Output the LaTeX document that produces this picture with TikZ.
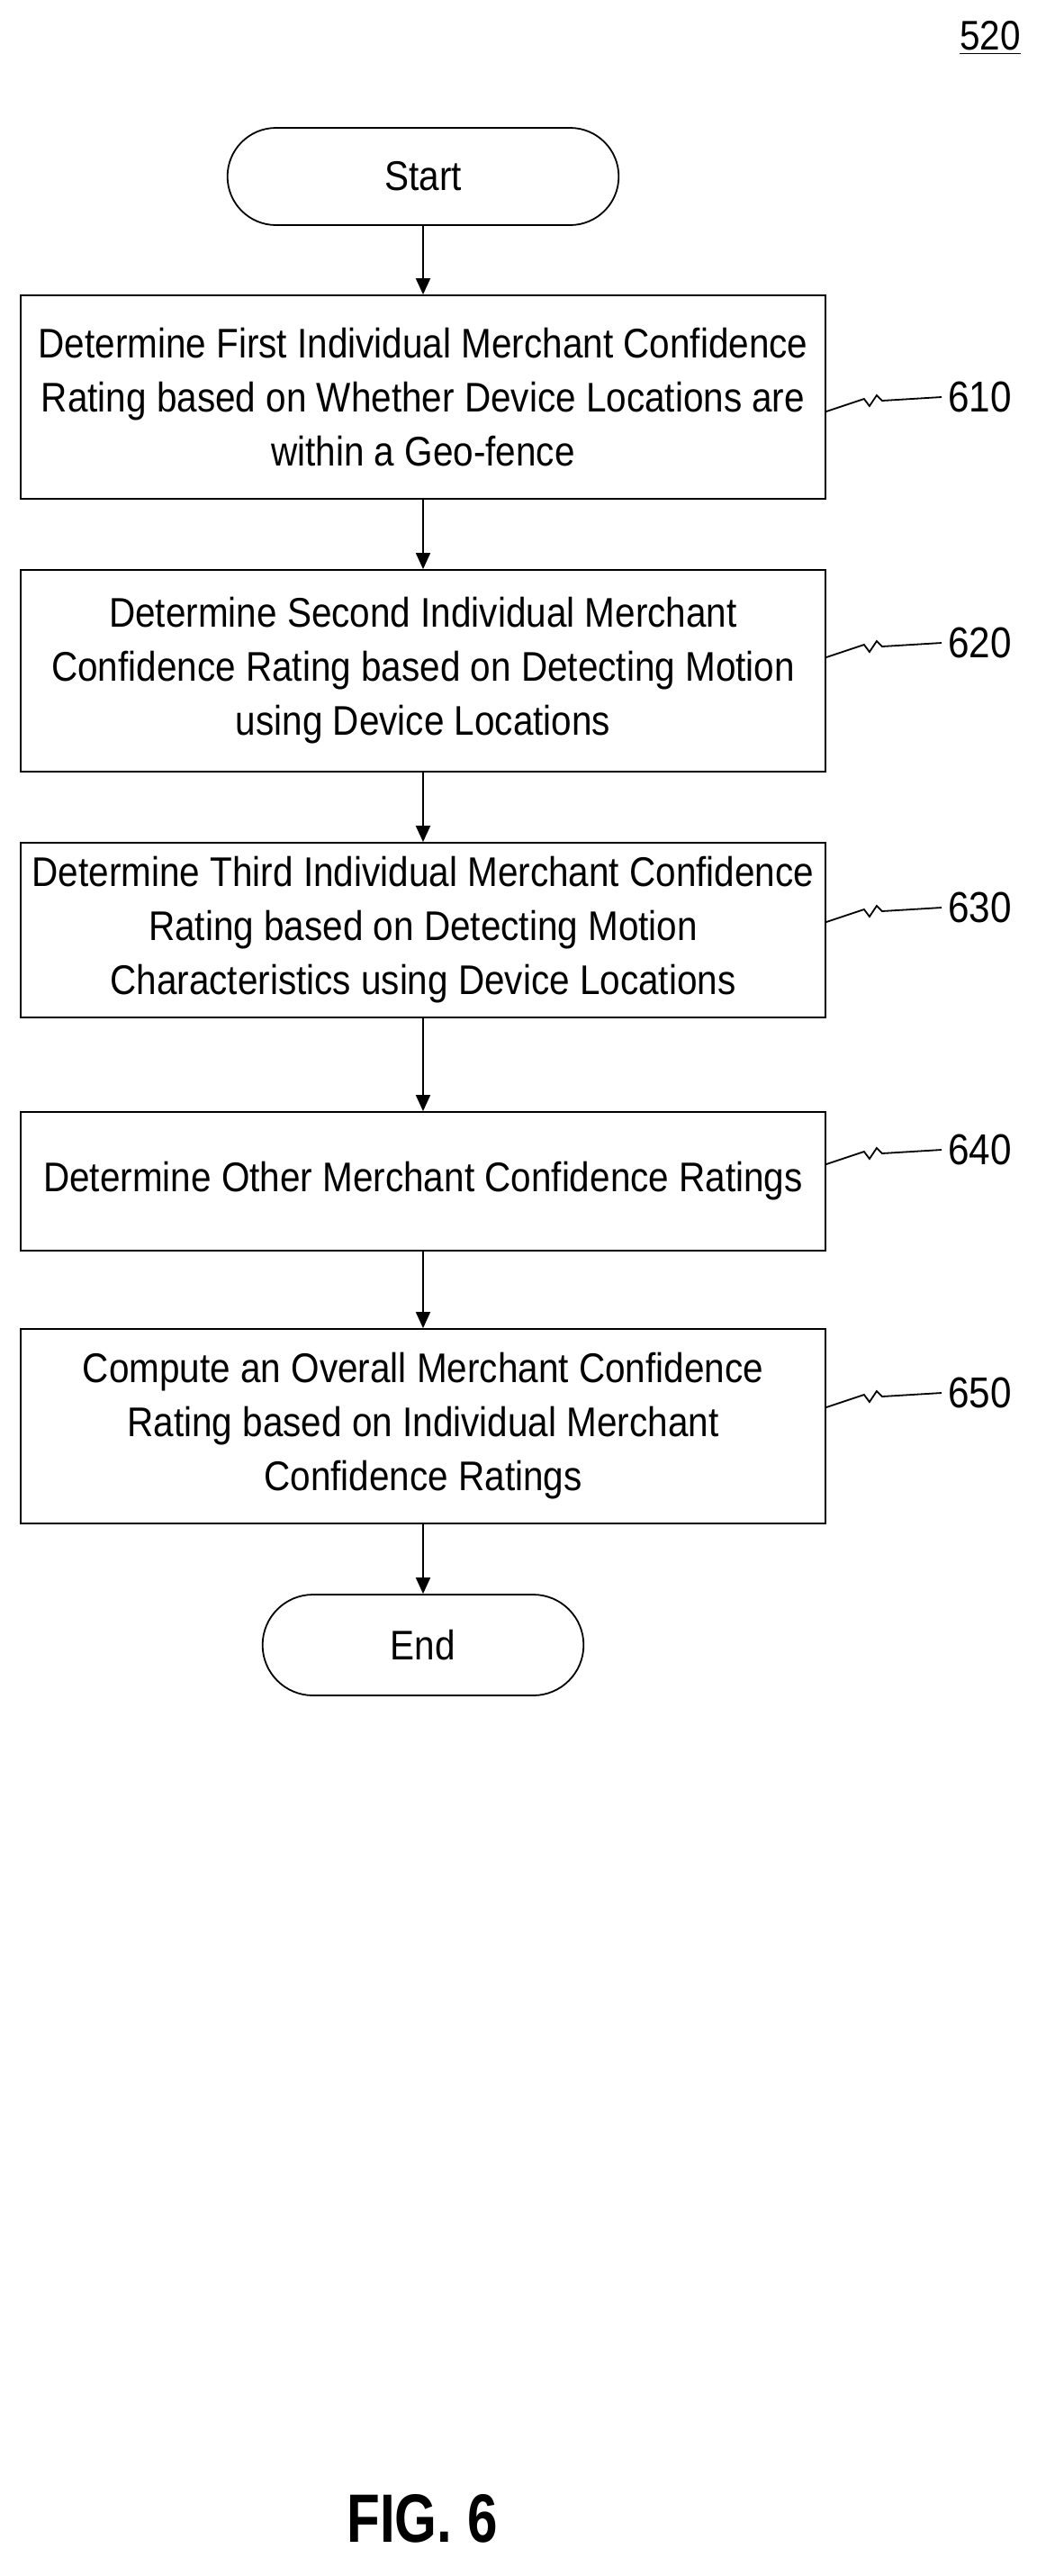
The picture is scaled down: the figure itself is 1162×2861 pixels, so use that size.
\documentclass[tikz,border=0pt]{standalone}
\usepackage{fontspec}
\setmainfont{Liberation Sans}[FakeStretch=0.88]
\usetikzlibrary{shapes.misc,arrows.meta}
\begin{document}
\begin{tikzpicture}[x=0.5pt,y=-0.5pt,
  box/.style={draw,line width=0.9pt,minimum width=447pt,align=center,font=\fontsize{23}{30}\selectfont},
  term/.style={draw,line width=0.9pt,rounded rectangle,align=center,font=\fontsize{23}{30}\selectfont},
  arr/.style={-{Triangle[length=9pt,width=8pt]},line width=0.9pt},
  lbl/.style={font=\fontsize{24}{28}\selectfont,anchor=west},
  lead/.style={line width=0.9pt}]
\useasboundingbox (0,0) rectangle (1162,2861);
\node[font=\fontsize{23}{28}\selectfont] (n520) at (1100,42) {\underline{520}};
\node[term,minimum width=224pt,minimum height=54pt] (start) at (470,196) {Start};
\node[box,minimum height=113pt] (b1) at (470,441) {Determine First Individual Merchant Confidence\\Rating based on Whether Device Locations are\\within a Geo-fence};
\node[box,minimum height=112pt] (b2) at (470,745) {Determine Second Individual Merchant\\Confidence Rating based on Detecting Motion\\using Device Locations};
\node[box,minimum height=97pt] (b3) at (470,1033) {Determine Third Individual Merchant Confidence\\Rating based on Detecting Motion\\Characteristics using Device Locations};
\node[box,minimum height=77pt] (b4) at (470,1312) {Determine Other Merchant Confidence Ratings};
\node[box,minimum height=108pt] (b5) at (470,1584) {Compute an Overall Merchant Confidence\\Rating based on Individual Merchant\\Confidence Ratings};
\node[term,minimum width=185pt,minimum height=56pt] (end) at (470,1827) {End};
\node[font=\bfseries\fontsize{38}{44}\selectfont,xscale=0.9] (fig) at (469,2797) {FIG. 6};
\foreach \a/\b in {start/b1,b1/b2,b2/b3,b3/b4,b4/b5,b5/end}{\draw[arr] (\a) -- (\b);}
\foreach \b/\y/\t in {b1/441/610,b2/714/620,b3/1008/630,b4/1277/640,b5/1547/650}{
  \node[lbl] (l\t) at (1046,\y) {\t};
  \coordinate (s\t) at (b1.east |- 0,\y+16);
  \draw[lead] (s\t) -- ++(42,-14) -- ++(6,8) -- ++(8,-12) -- ++(6,6) -- (l\t.west);
}
\end{tikzpicture}
\end{document}
